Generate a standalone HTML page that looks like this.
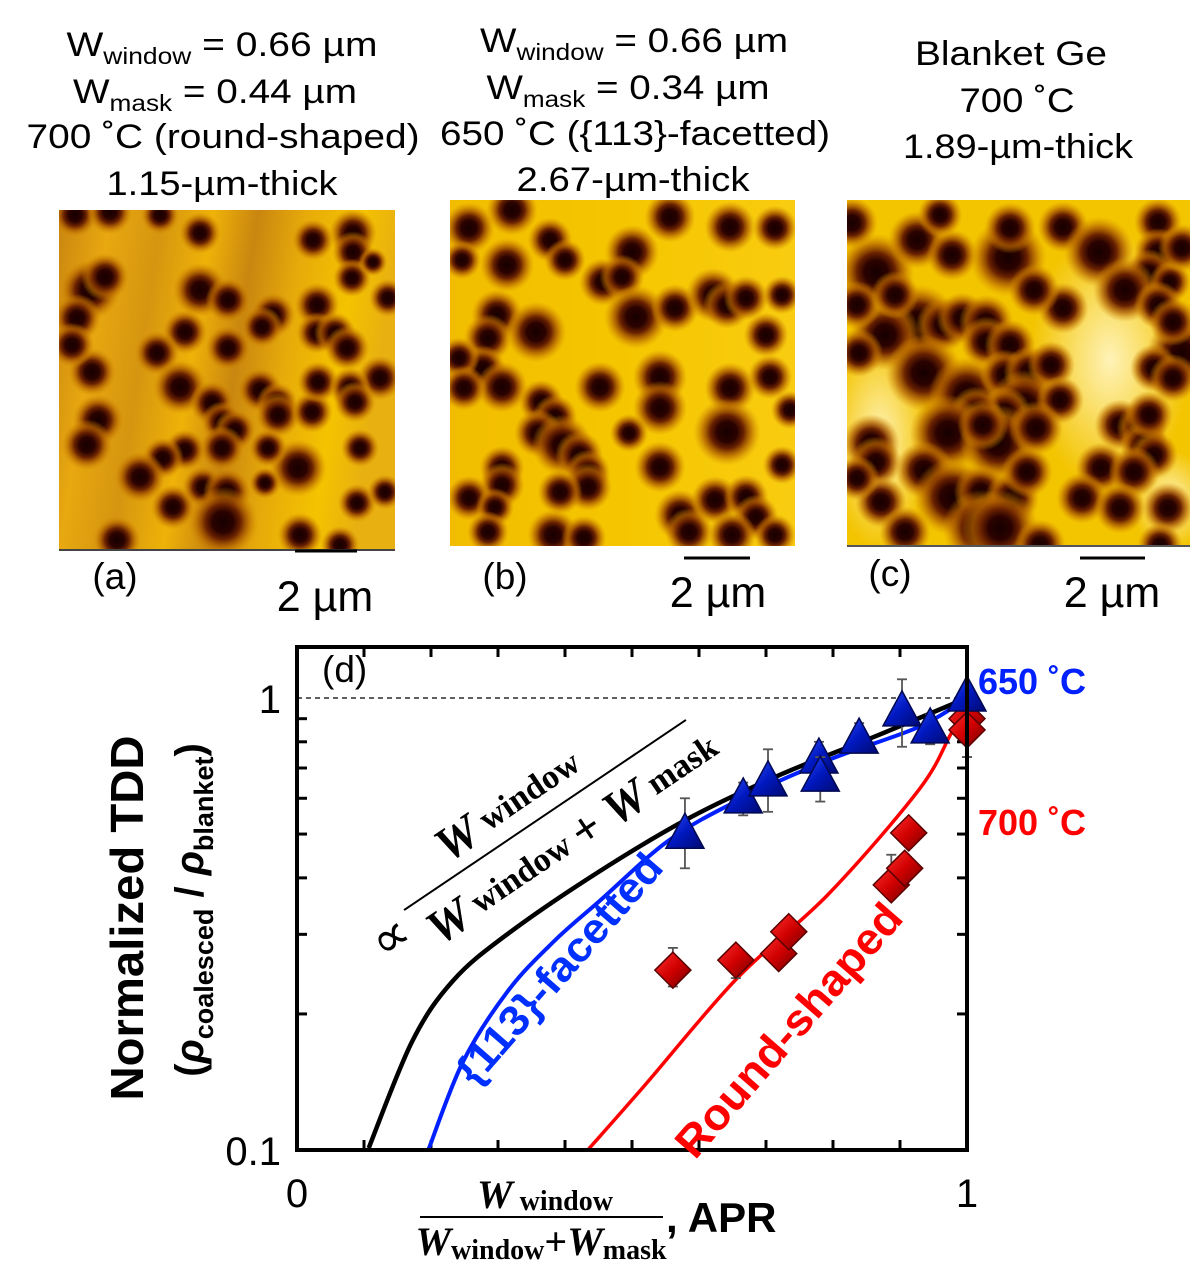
<!DOCTYPE html>
<html><head><meta charset="utf-8">
<style>
html,body{margin:0;padding:0;background:#fff;}
svg{display:block;}
text{font-family:"Liberation Sans",sans-serif;}
.serif{font-family:"Liberation Serif",serif;}
</style></head>
<body>
<svg id="fig" width="1200" height="1274" viewBox="0 0 1200 1274" xmlns="http://www.w3.org/2000/svg">
<defs>
  <radialGradient id="pit">
    <stop offset="0" stop-color="#160000"/>
    <stop offset="0.3" stop-color="#2a0200"/>
    <stop offset="0.5" stop-color="#6a2200"/>
    <stop offset="0.72" stop-color="#b06000" stop-opacity="0.75"/>
    <stop offset="1" stop-color="#d89000" stop-opacity="0"/>
  </radialGradient>
  <linearGradient id="bgA" x1="0" y1="0" x2="1" y2="0.15">
    <stop offset="0" stop-color="#c98510"/>
    <stop offset="0.15" stop-color="#e8a810"/>
    <stop offset="0.3" stop-color="#d59510"/>
    <stop offset="0.45" stop-color="#eeb208"/>
    <stop offset="0.58" stop-color="#c98610"/>
    <stop offset="0.72" stop-color="#e6aa0a"/>
    <stop offset="0.88" stop-color="#f5c300"/>
    <stop offset="1" stop-color="#e8b010"/>
  </linearGradient>
  <linearGradient id="bgB" x1="0" y1="0" x2="1" y2="0">
    <stop offset="0" stop-color="#f2bd00"/>
    <stop offset="0.5" stop-color="#f5c600"/>
    <stop offset="1" stop-color="#f8cc10"/>
  </linearGradient>
  <radialGradient id="lightC1" cx="0.5" cy="0.5" r="0.5">
    <stop offset="0" stop-color="#fff3b8"/>
    <stop offset="1" stop-color="#fff3b8" stop-opacity="0"/>
  </radialGradient>
  <linearGradient id="diaG" x1="0" y1="0" x2="1" y2="1">
    <stop offset="0" stop-color="#ff3030"/>
    <stop offset="0.5" stop-color="#d00000"/>
    <stop offset="1" stop-color="#700000"/>
  </linearGradient>
  <linearGradient id="triG" x1="0" y1="0" x2="1" y2="1">
    <stop offset="0" stop-color="#3050ff"/>
    <stop offset="0.5" stop-color="#0018c0"/>
    <stop offset="1" stop-color="#000a70"/>
  </linearGradient>
  <clipPath id="clipA"><rect x="59" y="210" width="336" height="340"/></clipPath>
  <clipPath id="clipB"><rect x="450" y="200" width="345" height="346"/></clipPath>
  <clipPath id="clipC"><rect x="847" y="200" width="343" height="346"/></clipPath>
</defs>

<!-- titles -->
<g font-size="34" text-anchor="middle">
  <text x="222" y="56" textLength="311" lengthAdjust="spacingAndGlyphs">W<tspan font-size="23" dy="8">window</tspan><tspan dy="-8"> = 0.66 µm</tspan></text>
  <text x="215" y="103" textLength="284" lengthAdjust="spacingAndGlyphs">W<tspan font-size="23" dy="8">mask</tspan><tspan dy="-8"> = 0.44 µm</tspan></text>
  <text x="223" y="148" textLength="393" lengthAdjust="spacingAndGlyphs">700 ˚C (round-shaped)</text>
  <text x="222" y="195" textLength="231" lengthAdjust="spacingAndGlyphs">1.15-µm-thick</text>
</g>
<g font-size="34" text-anchor="middle">
  <text x="634" y="52" textLength="308" lengthAdjust="spacingAndGlyphs">W<tspan font-size="23" dy="8">window</tspan><tspan dy="-8"> = 0.66 µm</tspan></text>
  <text x="628" y="99" textLength="283" lengthAdjust="spacingAndGlyphs">W<tspan font-size="23" dy="8">mask</tspan><tspan dy="-8"> = 0.34 µm</tspan></text>
  <text x="635" y="145" textLength="390" lengthAdjust="spacingAndGlyphs">650 ˚C ({113}-facetted)</text>
  <text x="633" y="191" textLength="233" lengthAdjust="spacingAndGlyphs">2.67-µm-thick</text>
</g>
<g font-size="34" text-anchor="middle">
  <text x="1011" y="65" textLength="192" lengthAdjust="spacingAndGlyphs">Blanket Ge</text>
  <text x="1017" y="112" textLength="115" lengthAdjust="spacingAndGlyphs">700 ˚C</text>
  <text x="1018" y="158" textLength="230" lengthAdjust="spacingAndGlyphs">1.89-µm-thick</text>
</g>

<!-- AFM images -->
<g>
  <rect x="59" y="210" width="336" height="340" fill="url(#bgA)"/>
  <g id="pitsA" clip-path="url(#clipA)"></g>
  <line x1="59" y1="550" x2="395" y2="550" stroke="#444" stroke-width="2"/>
</g>
<g>
  <rect x="450" y="200" width="345" height="346" fill="url(#bgB)"/>
  <g id="pitsB" clip-path="url(#clipB)"></g>
</g>
<g>
  <rect x="847" y="200" width="343" height="346" fill="#f3c400"/>
  <g clip-path="url(#clipC)">
    <ellipse cx="1110" cy="360" rx="80" ry="130" fill="url(#lightC1)"/>
    <ellipse cx="880" cy="440" rx="50" ry="110" fill="url(#lightC1)"/>
    <ellipse cx="1170" cy="500" rx="40" ry="50" fill="url(#lightC1)"/>
  </g>
  <g id="pitsC" clip-path="url(#clipC)"></g>
  <line x1="847" y1="546" x2="1190" y2="546" stroke="#555" stroke-width="2"/>
</g>

<!-- panel labels and scale bars -->
<text x="115" y="589" font-size="37" text-anchor="middle">(a)</text>
<line x1="295" y1="551" x2="357" y2="551" stroke="#000" stroke-width="3"/>
<text x="325" y="611" font-size="43" text-anchor="middle">2 µm</text>
<text x="505" y="589" font-size="37" text-anchor="middle">(b)</text>
<line x1="684" y1="558" x2="750" y2="558" stroke="#000" stroke-width="3"/>
<text x="718" y="607" font-size="43" text-anchor="middle">2 µm</text>
<text x="890" y="586" font-size="37" text-anchor="middle">(c)</text>
<line x1="1080" y1="558" x2="1145" y2="558" stroke="#000" stroke-width="3"/>
<text x="1112" y="607" font-size="43" text-anchor="middle">2 µm</text>

<!-- chart -->
<g id="chart">
  <g id="ticks"></g>
  <line x1="297" y1="698" x2="967" y2="698" stroke="#000" stroke-width="1.2" stroke-dasharray="5,4"/>
  <g id="curves"></g>
  <g id="points"></g>
  <rect x="297" y="647" width="670" height="503" fill="none" stroke="#000" stroke-width="4"/>
  <text x="322" y="682" font-size="37">(d)</text>
  <g id="ticklabels" font-size="40"></g>

  <text transform="translate(143,918) rotate(-90)" font-size="46" font-weight="bold" text-anchor="middle" textLength="365" lengthAdjust="spacingAndGlyphs">Normalized TDD</text>
  <text transform="translate(203,910) rotate(-90)" font-size="40" font-weight="bold" text-anchor="middle">(<tspan font-style="italic">ρ</tspan><tspan font-size="27" dy="10">coalesced</tspan><tspan dy="-10"> / </tspan><tspan font-style="italic">ρ</tspan><tspan font-size="27" dy="10">blanket</tspan><tspan dy="-10">)</tspan></text>

  <g>
    <text class="serif" x="545" y="1208" font-size="40" font-weight="bold" text-anchor="middle"><tspan font-style="italic">W</tspan><tspan font-size="28" dy="2"> window</tspan></text>
    <line x1="420" y1="1217" x2="663" y2="1217" stroke="#000" stroke-width="2"/>
    <text class="serif" x="541" y="1255" font-size="40" font-weight="bold" text-anchor="middle"><tspan font-style="italic">W</tspan><tspan font-size="28" dy="4">window</tspan><tspan dy="-4">+</tspan><tspan font-style="italic">W</tspan><tspan font-size="28" dy="4">mask</tspan></text>
    <text x="666" y="1232" font-size="42" font-weight="bold">, APR</text>
  </g>

  <g transform="translate(545,815) rotate(-34)">
    <line x1="-170" y1="0" x2="170" y2="0" stroke="#000" stroke-width="2"/>
    <text class="serif" x="-25" y="-14" font-size="48" font-weight="bold" text-anchor="middle"><tspan font-style="italic">W</tspan><tspan font-size="34" dy="-4"> window</tspan></text>
    <text class="serif" x="10" y="50" font-size="48" font-weight="bold" text-anchor="middle"><tspan font-style="italic">W</tspan><tspan font-size="34" dy="-4"> window </tspan><tspan dy="4">+ </tspan><tspan font-style="italic">W</tspan><tspan font-size="34" dy="-4"> mask</tspan></text>
    <text class="serif" x="-215" y="32" font-size="52">∝</text>
  </g>
  <text transform="translate(570,978) rotate(-49)" font-size="42" font-weight="bold" fill="#0030ff" text-anchor="middle" textLength="290" lengthAdjust="spacingAndGlyphs">{113}-facetted</text>
  <text transform="translate(800,1040) rotate(-49)" font-size="44" font-weight="bold" fill="#ff0000" text-anchor="middle" textLength="320" lengthAdjust="spacingAndGlyphs">Round-shaped</text>
  <text x="978" y="694" font-size="36" font-weight="bold" fill="#0020ff">650 ˚C</text>
  <text x="978" y="835" font-size="36" font-weight="bold" fill="#ff0000">700 ˚C</text>
</g>
</svg>
<script>
// ---- chart data ----
const blackX = [0.107,0.172,0.233,0.315,0.452,0.588,0.724,0.861,1.0];
const blackY = [0.101,0.174,0.237,0.301,0.414,0.545,0.679,0.820,1.0];
const blueX = [0.196,0.248,0.315,0.384,0.452,0.554,0.657,0.793,0.928,1.0];
const blueY = [0.1,0.157,0.225,0.290,0.356,0.483,0.592,0.729,0.863,1.0];
const redX = [0.434,0.519,0.657,0.793,0.928,0.976,1.0];
const redY = [0.1,0.139,0.240,0.368,0.626,0.833,0.955];
const triX = [0.579,0.666,0.703,0.779,0.781,0.839,0.903,0.945,1.0];
const triY = [0.497,0.595,0.649,0.729,0.665,0.807,0.927,0.85,1.0];
const triErrLo = [0.42,0.55,0.56,0.65,0.59,0.76,0.78,0.79,0.98];
const triErrHi = [0.60,0.65,0.77,0.80,0.74,0.88,1.10,0.92,1.02];
const diaX = [0.561,0.655,0.719,0.734,0.887,0.907,0.913,1.0,1.0];
const diaY = [0.250,0.263,0.272,0.304,0.386,0.420,0.503,0.90,0.85];
const diaErrLo = [0.23,0.24,0.27,0.30,0.37,0.42,0.50,0.74,0.74];
const diaErrHi = [0.28,0.28,0.28,0.31,0.45,0.45,0.52,0.90,0.90];
const xTickLabels = ['0','1'];
const yTickLabels = ['0.1','1'];

const NS='http://www.w3.org/2000/svg';
const X0=297, X1=967, YTOP=647, YBOT=1150;
function sx(v){return X0+(X1-X0)*v;}
function sy(v){return 698-452*Math.log10(v);}
function mk(tag,attrs,parent){const e=document.createElementNS(NS,tag);for(const k in attrs)e.setAttribute(k,attrs[k]);parent.appendChild(e);return e;}

const ticks=document.getElementById('ticks');
for(let i=1;i<10;i++){
  const x=sx(i/10);
  const t1=mk('line',{x1:x,y1:YBOT,x2:x,y2:YBOT-10,stroke:'#000','stroke-width':3},ticks);
  
  
  const t2=mk('line',{x1:x,y1:YTOP,x2:x,y2:YTOP+10,stroke:'#000','stroke-width':3},ticks);
  
  
}
for(let i=2;i<=9;i++){
  const y=sy(i/10);
  const t1=mk('line',{x1:X0,y1:y,x2:X0+10,y2:y,stroke:'#000','stroke-width':3},ticks);
  
  
  const t2=mk('line',{x1:X1,y1:y,x2:X1-10,y2:y,stroke:'#000','stroke-width':3},ticks);
  
  
}
const tl=document.getElementById('ticklabels');
[[0.1,yTickLabels[0]],[1,yTickLabels[1]]].forEach(([v,s])=>{
  const t=mk('text',{x:X0-16,y:sy(v)+15,'text-anchor':'end'},tl);
  t.textContent=s;
  
  
});
[[0,xTickLabels[0]],[1,xTickLabels[1]]].forEach(([v,s])=>{
  const t=mk('text',{x:sx(v),y:YBOT+57,'text-anchor':'middle'},tl);
  t.textContent=s;
  
  
});

function smoothPath(xs,ys){
  const p=xs.map((x,i)=>[sx(x),sy(ys[i])]);
  let d='M'+p[0][0]+','+p[0][1];
  for(let i=0;i<p.length-1;i++){
    const p0=p[Math.max(0,i-1)],p1=p[i],p2=p[i+1],p3=p[Math.min(p.length-1,i+2)];
    const c1=[p1[0]+(p2[0]-p0[0])/6,p1[1]+(p2[1]-p0[1])/6];
    const c2=[p2[0]-(p3[0]-p1[0])/6,p2[1]-(p3[1]-p1[1])/6];
    d+=' C'+c1[0]+','+c1[1]+' '+c2[0]+','+c2[1]+' '+p2[0]+','+p2[1];
  }
  return d;
}
const curves=document.getElementById('curves');
const cb=mk('path',{d:smoothPath(blueX,blueY),fill:'none',stroke:'#0020ff','stroke-width':4},curves);


const ck=mk('path',{d:smoothPath(blackX,blackY),fill:'none',stroke:'#000','stroke-width':4.5},curves);


const cr=mk('path',{d:smoothPath(redX,redY),fill:'none',stroke:'#ff0000','stroke-width':3.5},curves);



const pts=document.getElementById('points');
function errbar(x,lo,hi){
  const g=mk('g',{stroke:'#555','stroke-width':1.8},pts);
  
  
  mk('line',{x1:x,y1:sy(lo),x2:x,y2:sy(hi)},g);
  mk('line',{x1:x-5,y1:sy(lo),x2:x+5,y2:sy(lo)},g);
  mk('line',{x1:x-5,y1:sy(hi),x2:x+5,y2:sy(hi)},g);
}
diaX.forEach((v,i)=>{
  const x=sx(v),y=sy(diaY[i]);
  errbar(x,diaErrLo[i],diaErrHi[i]);
  const d=mk('polygon',{points:`${x},${y-18} ${x+18},${y} ${x},${y+18} ${x-18},${y}`,fill:'url(#diaG)',stroke:'#5a0000','stroke-width':1.5},pts);
  
  
});
triX.forEach((v,i)=>{
  const x=sx(v),y=sy(triY[i]);
  errbar(x,triErrLo[i],triErrHi[i]);
  const t=mk('polygon',{points:`${x},${y-22} ${x+19},${y+13} ${x-19},${y+13}`,fill:'url(#triG)',stroke:'#000850','stroke-width':1.5},pts);
  
  
});

// ---- decorative AFM pits (image texture, not chart data) ----
const pitsA=[[90,290,19],[77,318,15],[105,277,15],[200,290,17],[228,300,14],[185,332,14],[228,348,14],[157,353,14],[92,372,15],[180,387,17],[212,403,14],[273,315,14],[262,327,13],[317,305,14],[353,233,15],[353,252,13],[313,240,13],[200,233,13],[352,278,12],[388,298,12],[317,333,13],[335,333,13],[347,348,14],[380,378,14],[260,390,14],[277,403,13],[278,415,14],[312,412,13],[318,382,13],[350,388,13],[355,402,13],[98,420,16],[87,445,16],[222,422,13],[235,430,13],[222,448,14],[185,450,13],[163,458,13],[140,477,16],[173,507,14],[203,487,13],[227,492,15],[223,522,22],[298,468,18],[268,448,12],[265,483,10],[117,540,15],[300,535,14],[357,503,12],[385,492,11],[360,448,12],[373,262,9],[72,345,14],[75,215,14],[110,212,14],[160,215,12],[340,545,12]];
const pitsB=[[512,210,16],[469,228,16],[507,265,17],[550,240,14],[565,260,13],[632,252,17],[670,217,16],[730,227,16],[775,228,14],[603,282,15],[622,277,14],[636,317,20],[675,308,15],[713,295,17],[727,305,15],[746,298,14],[782,295,12],[497,315,16],[488,338,15],[536,332,19],[483,368,14],[459,358,13],[502,387,16],[464,388,14],[541,402,14],[600,387,16],[660,377,17],[660,408,17],[730,388,16],[770,377,14],[766,335,14],[555,417,14],[538,433,15],[562,445,19],[579,455,15],[588,472,14],[588,487,15],[629,433,12],[727,432,21],[660,467,16],[502,468,14],[502,485,14],[469,498,14],[495,507,12],[560,492,14],[553,535,16],[488,532,13],[680,515,16],[689,532,15],[715,500,15],[746,497,14],[756,517,14],[732,535,15],[775,535,13],[782,465,12],[584,538,14],[462,260,12],[790,410,12]];
const pitsC=[[876,272,24],[852,223,16],[917,240,18],[952,255,16],[1008,258,24],[1063,227,16],[1099,252,22],[1158,222,15],[1158,252,15],[1149,273,15],[1125,290,20],[1170,282,13],[1010,228,16],[919,323,24],[885,335,22],[943,325,17],[962,318,16],[986,322,17],[986,342,16],[1010,345,16],[859,353,15],[857,305,15],[895,295,15],[924,373,24],[967,395,24],[1005,375,16],[1029,372,16],[1051,365,15],[1024,405,22],[1060,400,15],[1005,412,16],[976,412,16],[948,433,24],[998,443,24],[1036,428,17],[983,425,16],[871,443,18],[876,462,16],[924,470,18],[952,497,24],[981,492,17],[1012,498,17],[981,528,24],[1000,528,24],[1120,425,16],[1142,428,16],[1144,445,15],[1154,455,15],[1149,415,15],[1182,353,22],[1154,368,15],[1173,378,15],[1101,468,16],[1134,472,16],[1082,498,16],[1120,508,16],[1168,508,16],[1027,472,16],[881,502,16],[905,532,16],[857,478,14],[1063,308,16],[1034,290,16],[1158,305,15],[1173,322,15],[1182,248,15],[940,215,14],[1040,545,16],[1160,545,14]];
function drawPits(id,list,prefix){
  const g=document.getElementById(id);
  list.forEach(p=>{
    const c=mk('circle',{cx:p[0],cy:p[1],r:p[2]*1.6,fill:'url(#pit)'},g);
    
    
  });
}
drawPits('pitsA',pitsA,'afm-a');
drawPits('pitsB',pitsB,'afm-b');
drawPits('pitsC',pitsC,'afm-c');
</script>
</body></html>
